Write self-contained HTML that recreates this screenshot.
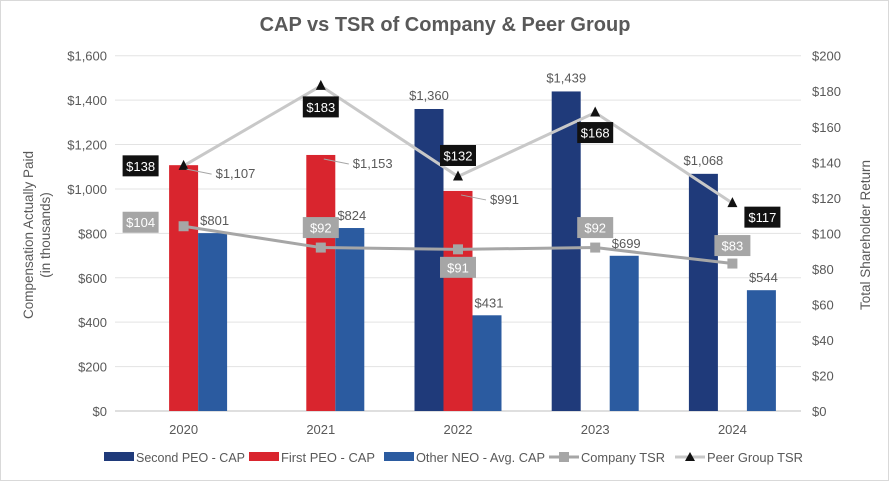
<!DOCTYPE html>
<html><head><meta charset="utf-8"><style>
body{margin:0;background:#fff;}
svg{display:block;font-family:"Liberation Sans",Arial,sans-serif;}
</style></head><body>
<svg id="c" width="889" height="481" viewBox="0 0 889 481">
<rect x="0.5" y="0.5" width="888" height="480" fill="#fff" stroke="#d9d9d9"/>
<text x="445" y="31" text-anchor="middle" font-size="20" font-weight="bold" fill="#595959">CAP vs TSR of Company &amp; Peer Group</text>
<text transform="translate(33,235) rotate(-90)" text-anchor="middle" font-size="13.5" fill="#595959"><tspan x="0" dy="0">Compensation Actually Paid</tspan><tspan x="0" dy="17">(in thousands)</tspan></text>
<text transform="translate(870,235) rotate(-90)" text-anchor="middle" font-size="13.5" fill="#595959">Total Shareholder Return</text>
<g id="grid"></g><g id="bars"></g><g id="lines"></g><g id="labels"></g><g id="legend"></g>
</svg>
<script>
const categories=["2020","2021","2022","2023","2024"];
const secondPEO=[null,null,1360,1439,1068];
const firstPEO=[1107,1153,991,null,null];
const otherNEO=[801,824,431,699,544];
const companyTSR=[104,92,91,92,83];
const peerTSR=[138,183,132,168,117];
const leftTicks=[0,200,400,600,800,1000,1200,1400,1600];
const rightTicks=[0,20,40,60,80,100,120,140,160,180,200];
// label offsets (layout only)
const peerOff=[[-43,0],[0,21],[0,-21],[0,20],[30,14]];
const compOff=[[-43,-4],[0,-20],[0,18],[0,-20],[0,-18]];

const NS="http://www.w3.org/2000/svg";
const L=115,R=801,T=55.7,B=411;
const xC=i=>L+(R-L)/categories.length*(i+0.5);
const yL=v=>B-(v/1600)*(B-T);
const yR=v=>B-(v/200)*(B-T);
function mk(tag,attrs,parent,txt){const e=document.createElementNS(NS,tag);for(const k in attrs)e.setAttribute(k,attrs[k]);if(txt!==undefined)e.textContent=txt;document.getElementById(parent).appendChild(e);return e;}
const fmt=v=>"$"+v.toLocaleString("en-US");

leftTicks.forEach(v=>{
  const g=mk("line",{x1:L,x2:R,y1:yL(v),y2:yL(v),stroke:v===0?"#bfbfbf":"#e3e3e3","stroke-width":1},"grid");
  
  
  const t=mk("text",{x:107,y:yL(v)+5,"text-anchor":"end","font-size":13,fill:"#595959"},"grid",fmt(v));
  
  
});
rightTicks.forEach(v=>{
  const t=mk("text",{x:812,y:yR(v)+5,"font-size":13,fill:"#595959"},"grid",fmt(v));
  
  
});
categories.forEach((c,i)=>{
  const t=mk("text",{x:xC(i),y:434,"text-anchor":"middle","font-size":13,fill:"#595959"},"grid",c);
  
  
});
const bw=29;
const series=[[secondPEO,"#1f3a7a",-1.5,"bar-second-peo"],[firstPEO,"#d9252e",-0.5,"bar-first-peo"],[otherNEO,"#2b5ba0",0.5,"bar-other-neo"]];
series.forEach(([arr,col,off,name])=>{
  arr.forEach((v,i)=>{
    if(v===null)return;
    const r=mk("rect",{x:xC(i)+off*bw,y:yL(v),width:bw,height:B-yL(v),fill:col},"bars");
    
    
  });
});
series.forEach(([arr,col,off,name])=>{
  arr.forEach((v,i)=>{
    if(v===null)return;
    const bx=xC(i)+off*bw+bw/2;
    let x=bx,y=yL(v)-9,a="middle";
    if(name==="bar-first-peo"){x=bx+32;y=yL(v)+13;a="start";
      const ln=mk("polyline",{points:`${bx+3},${yL(v)+4} ${bx+28},${yL(v)+9}`,fill:"none",stroke:"#a6a6a6"},"labels");
      
      }
    else if(name==="bar-other-neo"){x=bx+2;y=yL(v)-8;}
    const t=mk("text",{x:x,y:y,"text-anchor":a,"font-size":13,fill:"#595959"},"labels",fmt(v));
    
    
  });
});
function line(arr,col,name){
  const p=mk("polyline",{points:arr.map((v,i)=>xC(i)+","+yR(v)).join(" "),fill:"none",stroke:col,"stroke-width":3},"lines");
  
  
}
line(peerTSR,"#c8c8c8","peer-tsr-line");
line(companyTSR,"#a6a6a6","company-tsr-line");
companyTSR.forEach((v,i)=>{
  const m=mk("rect",{x:xC(i)-5,y:yR(v)-5,width:10,height:10,fill:"#a6a6a6"},"lines");
  
  
});
peerTSR.forEach((v,i)=>{
  const x=xC(i),y=yR(v);
  const m=mk("polygon",{points:`${x},${y-6} ${x-5},${y+4} ${x+5},${y+4}`,fill:"#111"},"lines");
  
  
});
function box(v,i,off,bg,name){
  const cx=xC(i)+off[0],cy=yR(v)+off[1],w=36,h=21;
  const r=mk("rect",{x:cx-w/2,y:cy-h/2,width:w,height:h,fill:bg},"labels");
  
  
  const t=mk("text",{x:cx,y:cy+5,"text-anchor":"middle","font-size":13,fill:"#fff"},"labels","$"+v);
  
  
}
peerTSR.forEach((v,i)=>box(v,i,peerOff[i],"#111","peer-tsr-label"));
companyTSR.forEach((v,i)=>box(v,i,compOff[i],"#a6a6a6","company-tsr-label"));
// legend: [label, colour, kind, swatch x, text end x]
const leg=[["Second PEO - CAP","#1f3a7a","bar",104,246],["First PEO - CAP","#d9252e","bar",249,376],["Other NEO - Avg. CAP","#2b5ba0","bar",384,546],["Company TSR","#a6a6a6","sq",549,666],["Peer Group TSR","#c8c8c8","tri",675,804]];
leg.forEach(([lab,col,kind,x,xe])=>{
  const y=457;
  if(kind==="bar"){const r=mk("rect",{x:x,y:y-5,width:30,height:9,fill:col},"legend");}
  else{const l=mk("line",{x1:x,x2:x+30,y1:y,y2:y,stroke:col,"stroke-width":3},"legend");
    if(kind==="sq"){const s=mk("rect",{x:x+10,y:y-5,width:10,height:10,fill:col},"legend");}
    else{const s=mk("polygon",{points:`${x+15},${y-5} ${x+10},${y+4} ${x+20},${y+4}`,fill:"#111"},"legend");}}
  const t=mk("text",{x:x+32,y:y+5,"font-size":13,fill:"#595959",textLength:xe-x-33,lengthAdjust:"spacingAndGlyphs"},"legend",lab);
  
  
});
</script>
</body></html>
